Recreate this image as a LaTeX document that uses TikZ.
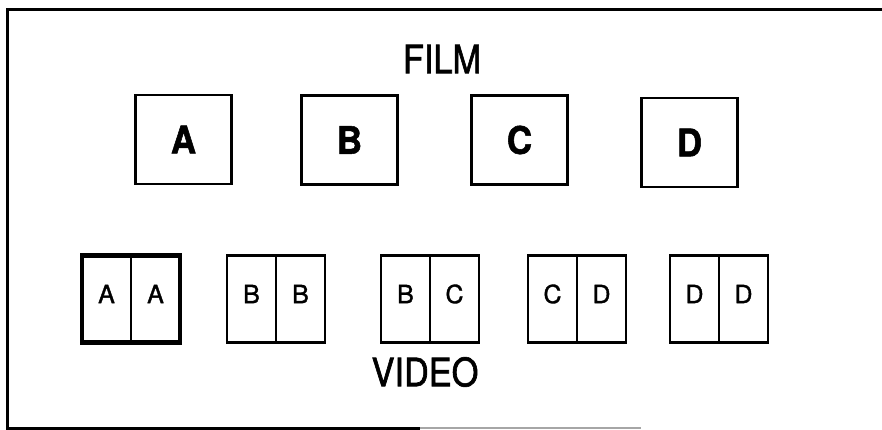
\documentclass[tikz,border=0pt]{standalone}
\usepackage{fontspec}
\setmainfont{TeX Gyre Heros}
\newfontfamily\narrowfont[FakeStretch=0.88,FakeBold=1.6]{TeX Gyre Heros}
\newfontfamily\heavyfont[FakeStretch=0.92,FakeBold=1.4]{TeX Gyre Heros Bold}
\newfontfamily\smallfont[FakeBold=1.4]{TeX Gyre Heros}
\usetikzlibrary{positioning}
\tikzset{
  filmframe/.style={draw,line width=2.6pt,minimum width=96pt,minimum height=89pt,inner sep=0pt,
    font=\heavyfont\fontsize{38}{38}\selectfont},
  videohalf/.style={draw,line width=2.4pt,minimum width=49pt,minimum height=87pt,inner sep=0pt,outer sep=0pt},
  videoletter/.style={inner sep=0pt,font=\smallfont\fontsize{25}{25}\selectfont},
  caption/.style={inner sep=0pt,font=\narrowfont\fontsize{39}{39}\selectfont}
}

\begin{document}
\begin{tikzpicture}[x=1pt,y=-1pt]
  \useasboundingbox (0,0) rectangle (882,430);
  % frame
  \coordinate (tr) at (886,10);
  \coordinate (tl) at (7,10);
  \coordinate (bl) at (7,428);
  \coordinate (bm) at (420,428);
  \coordinate (br) at (641,428);
  \draw[line width=3pt] (tr) -- (tl) -- (bl) -- (bm);
  \draw[black!35,line width=2.5pt] (bm) -- (br);

  \node[caption] (film) at (442,59) {FILM};
  % film frames
  \foreach \l/\x/\y in {A/183.5/139.5,B/349.5/140,C/519.5/140,D/689.5/142.5}{
    \node[filmframe] (f\l) at (\x,\y) {\l};
  }

  % video frames: divider x, left letter, right letter
  \foreach \i/\x/\a/\b in {1/131/A/A,2/276/B/B,3/430/B/C,4/577/C/D,5/719/D/D}{
    \node[videohalf,anchor=east] (v\i l) at (\x,299) {};
    \node[videohalf,right=0pt of v\i l] (v\i r) {};
    \node[videoletter] (t\i l) at ([yshift=5pt]v\i l.center) {\a};
    \node[videoletter] (t\i r) at ([yshift=5pt]v\i r.center) {\b};
  }
  \draw[line width=4.2pt] (v1l.north west) rectangle (v1r.south east);

  \node[caption] (video) at (425,372) {VIDEO};
\end{tikzpicture}
\end{document}
